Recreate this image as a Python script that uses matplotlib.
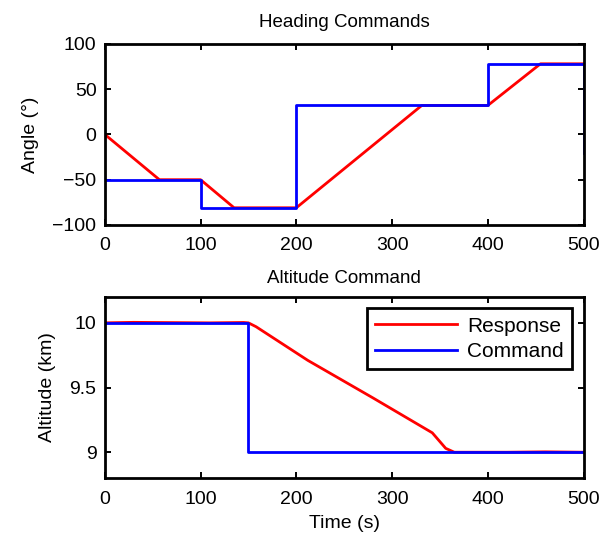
import matplotlib

matplotlib.use("Agg")
import matplotlib.pyplot as plt

# heading data (deg)
head_cmd_t = [0, 100, 100, 200, 200, 400, 400, 500, 500]
head_cmd = [-50, -50, -81, -81, 32, 32, 78, 78, -20]
head_resp_t = [0, 57, 100, 135, 200, 331, 400, 455, 500]
head_resp = [0, -50, -50, -81, -81, 32, 32, 78, 78]

# altitude data (km)
alt_cmd_t = [0, 150, 150, 500]
alt_cmd = [10, 10, 9, 9]
alt_resp_t = [0, 30, 70, 110, 145, 150, 158, 212, 280, 342, 356, 365, 420, 460, 500]
alt_resp = [10.0, 10.004, 10.002, 10.0, 10.003, 10.0, 9.97, 9.71, 9.42, 9.15, 9.03, 9.0, 9.0, 9.003, 9.0]

plt.rcParams["font.family"] = ["Liberation Sans", "DejaVu Sans"]
plt.rcParams["font.size"] = 14
plt.rcParams["axes.linewidth"] = 2.0
plt.rcParams["xtick.direction"] = "in"
plt.rcParams["ytick.direction"] = "in"
plt.rcParams["xtick.top"] = True
plt.rcParams["ytick.right"] = True
plt.rcParams["xtick.major.size"] = 4
plt.rcParams["ytick.major.size"] = 4
plt.rcParams["xtick.major.width"] = 1.4
plt.rcParams["ytick.major.width"] = 1.4
plt.rcParams["xtick.major.pad"] = 9
plt.rcParams["ytick.major.pad"] = 6

fig = plt.figure(figsize=(6.13, 5.39), dpi=100)
ax1 = fig.add_axes([0.171, 0.5826, 0.781, 0.336])
ax2 = fig.add_axes([0.171, 0.113, 0.781, 0.336])

lw = 2.0
ax1.plot(head_resp_t, head_resp, color="red", linewidth=lw)
ax1.plot(head_cmd_t, head_cmd, color="blue", linewidth=lw)
ax1.set_xlim(0, 500)
ax1.set_ylim(-100, 100)
ax1.set_yticks([-100, -50, 0, 50, 100])
ax1.set_xticks([0, 100, 200, 300, 400, 500])
ax1.set_yticklabels(["\u2212100", "\u221250", "0", "50", "100"])
ax1.set_ylabel("Angle (°)", labelpad=10)
ax1.set_title("Heading Commands", fontsize=13.5, pad=12)

ax2.plot(alt_resp_t, alt_resp, color="red", linewidth=lw, label="Response")
ax2.plot(alt_cmd_t, alt_cmd, color="blue", linewidth=lw, label="Command")
ax2.set_xlim(0, 500)
ax2.set_ylim(8.8, 10.2)
ax2.set_yticks([9, 9.5, 10])
ax2.set_yticklabels(["9", "9.5", "10"])
ax2.set_xticks([0, 100, 200, 300, 400, 500])
ax2.set_xlabel("Time (s)", labelpad=5)
ax2.set_ylabel("Altitude (km)", labelpad=10)
ax2.set_title("Altitude Command", fontsize=13.5, pad=10)
leg = ax2.legend(loc="upper right", fancybox=False, framealpha=1, edgecolor="black",
                 handlelength=3.9, handletextpad=0.5, borderaxespad=0.55,
                 labelspacing=0.3, fontsize=15)
leg.get_frame().set_linewidth(2.0)

fig.savefig("out.png", dpi=100)
